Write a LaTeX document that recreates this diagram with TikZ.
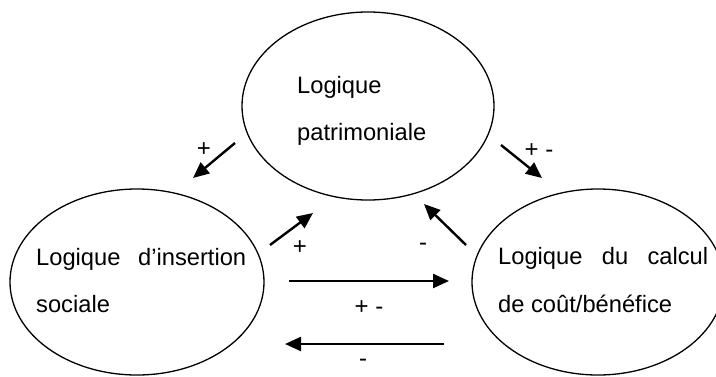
\documentclass[tikz,border=0pt]{standalone}
\usepackage{fontspec}
\setmainfont{Liberation Sans}
\usetikzlibrary{shapes.geometric,arrows.meta}
\begin{document}
\begin{tikzpicture}[x=1pt,y=-1pt,
  logic/.style={draw,ellipse,line width=1.3pt,inner sep=0pt},
  txt/.style={anchor=base west,inner sep=0pt,font=\fontsize{23.7}{28}\selectfont},
  sign/.style={inner sep=0pt,font=\fontsize{24}{28}\selectfont},
  infl/.style={line width=2.4pt,-{Triangle[length=16pt,width=14pt]}}]
\useasboundingbox (0,0) rectangle (716,376);
\clip (0,0) rectangle (716,376);
% the three logics
\node[logic,minimum width=252pt,minimum height=188pt] (pat) at (368,106) {};
\node[logic,minimum width=254pt,minimum height=186pt] (soc) at (137,282) {};
\node[logic,minimum width=252pt,minimum height=186pt] (cal) at (598,282) {};
% their labels
\node[txt] (pat1) at (297,93) {Logique};
\node[txt] (pat2) at (297,140) {patrimoniale};
\node[txt] (soc1) at (36,265) {\hbox to 210pt{Logique\hfill d’insertion}};
\node[txt] (soc2) at (36,312) {sociale};
\node[txt] (cal1) at (498,264) {\hbox to 210pt{Logique\hfill du\hfill calcul}};
\node[txt] (cal2) at (498,312) {de coût/bénéfice};
% influence arrows
\coordinate (a1s) at (235,143); \coordinate (a1e) at (193,178);
\coordinate (a2s) at (501,145); \coordinate (a2e) at (542,178);
\coordinate (a3s) at (270,245); \coordinate (a3e) at (313,213);
\coordinate (a4s) at (466,245); \coordinate (a4e) at (424,204);
\coordinate (a5s) at (289,281); \coordinate (a5e) at (449,281);
\coordinate (a6s) at (444,344); \coordinate (a6e) at (285,344);
\draw[infl] (a1s) -- (a1e);
\draw[infl] (a2s) -- (a2e);
\draw[infl] (a3s) -- (a3e);
\draw[infl] (a4s) -- (a4e);
\draw[infl] (a5s) -- (a5e);
\draw[infl] (a6s) -- (a6e);
% signs of the influences
\node[sign] (s1) at (204,150) {+};
\node[sign] (s2) at (539,151) {+ -};
\node[sign] (s3) at (300,248) {+};
\node[sign] (s4) at (423,247) {-};
\node[sign] (s5) at (369,308) {+ -};
\node[sign] (s6) at (363,363) {-};
\end{tikzpicture}
\end{document}
